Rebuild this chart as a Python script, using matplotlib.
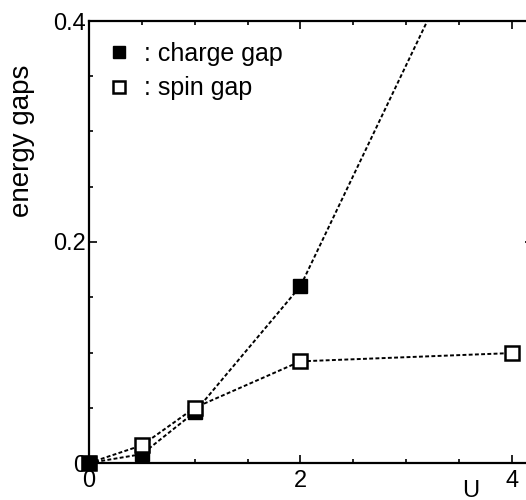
import matplotlib
matplotlib.use("Agg")
import matplotlib.pyplot as plt
from matplotlib.ticker import MultipleLocator

plt.rcParams["font.family"] = ["Liberation Sans", "DejaVu Sans"]

# interaction strength and the two gaps
u_values = [0.0, 0.5, 1.0, 2.0, 4.0]
charge_gap = [0.0, 0.008, 0.046, 0.160, 0.56]
spin_gap = [0.0, 0.016, 0.050, 0.092, 0.0995]

x_tick_labels = ["0", "2", "4"]
y_tick_labels = ["0", "0.2", "0.4"]

fig = plt.figure(figsize=(5.26, 5.0), dpi=100)
ax = fig.add_axes([89 / 526, 37 / 500, 444 / 526, 442 / 500])

line_style = (0, (2.0, 1.2))
ax.plot(u_values, charge_gap, color="black", linestyle=line_style, linewidth=1.4,
        marker="s", markersize=9.5, markerfacecolor="black", markeredgecolor="black",
        clip_on=True, zorder=3, label=": charge gap")
ax.plot(u_values, spin_gap, color="black", linestyle=line_style, linewidth=1.4,
        marker="s", markersize=9.5, markerfacecolor="white", markeredgecolor="black",
        markeredgewidth=1.8, clip_on=False, zorder=3, label=": spin gap")
# origin point sits on the axes corner
ax.plot([0], [0], marker="s", markersize=9.5, color="black", clip_on=False, zorder=4)

ax.set_xlim(0, 4.2)
ax.set_ylim(0, 0.4)
ax.set_xticks([0, 2, 4])
ax.set_xticklabels(x_tick_labels)
ax.set_yticks([0, 0.2, 0.4])
ax.set_yticklabels(y_tick_labels)
ax.xaxis.set_minor_locator(MultipleLocator(0.5))
ax.yaxis.set_minor_locator(MultipleLocator(0.05))
ax.tick_params(which="both", direction="in", top=True, right=True, width=1.2)
ax.tick_params(which="major", length=6, labelsize=17, pad=5)
ax.tick_params(which="minor", length=3)
ax.tick_params(axis="y", pad=2)
for spine in ax.spines.values():
    spine.set_linewidth(1.6)

ax.set_ylabel("energy gaps", fontsize=20)
ax.yaxis.set_label_coords(-0.122, 0.73)
ax.set_xlabel("U", fontsize=17)
ax.xaxis.set_label_coords(0.86, -0.038)
ax.xaxis.label.set_verticalalignment("top")

ax.legend(loc="upper left", frameon=False, fontsize=18, handlelength=0.5,
          handletextpad=0.75, borderaxespad=0.4, labelspacing=0.42,
          markerscale=0.85, bbox_to_anchor=(0.008, 0.998))

fig.savefig("out.png", dpi=100)
